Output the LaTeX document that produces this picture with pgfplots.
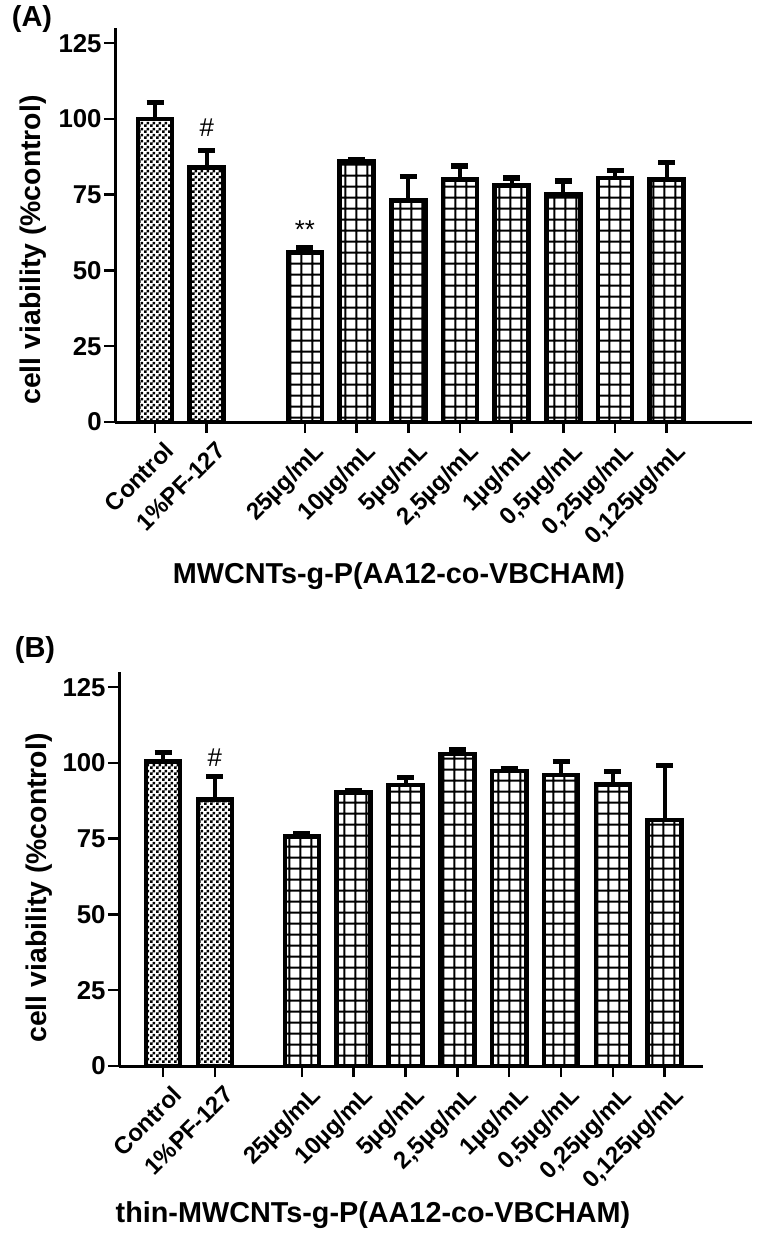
\documentclass[border=0pt]{standalone}
\usepackage{fontspec}
\setmainfont{Liberation Sans}
\usepackage{pgfplots}
\pgfplotsset{compat=1.18}
\usetikzlibrary{patterns}

\pgfdeclarepatternformonly{mygrid}{\pgfpointorigin}{\pgfqpoint{5.7pt}{5.7pt}}{\pgfqpoint{5.7pt}{5.7pt}}{%
  \pgfsetlinewidth{1.1pt}%
  \pgfpathmoveto{\pgfqpoint{-0.1pt}{2.85pt}}\pgfpathlineto{\pgfqpoint{5.8pt}{2.85pt}}%
  \pgfpathmoveto{\pgfqpoint{2.85pt}{-0.1pt}}\pgfpathlineto{\pgfqpoint{2.85pt}{5.8pt}}%
  \pgfusepath{stroke}}
\pgfdeclarepatternformonly{mychecker}{\pgfpointorigin}{\pgfqpoint{3pt}{3pt}}{\pgfqpoint{3pt}{3pt}}{%
  \pgfpathrectangle{\pgfpointorigin}{\pgfqpoint{1.5pt}{1.5pt}}%
  \pgfpathrectangle{\pgfqpoint{1.5pt}{1.5pt}}{\pgfqpoint{1.5pt}{1.5pt}}%
  \pgfusepath{fill}}

\pgfplotstableread{
x y e
0 100 5.5
1 84 5.5
}\ctrlA
\pgfplotstableread{
x y e
2.9 56 1.5
3.9 86 0.6
4.9 73 8
5.9 80 4.5
6.9 78 2.5
7.9 75 4.5
8.9 80.5 2.5
9.9 80 5.5
}\concA
\pgfplotstableread{
x y e
0 100.5 3
1 88 7.5
}\ctrlB
\pgfplotstableread{
x y e
2.68 75.7 1
3.68 90.3 0.7
4.68 92.7 2.5
5.68 103 1.5
6.68 97.3 0.8
7.68 96 4.5
8.68 92.8 4.5
9.68 81.2 18
}\concB

\pgfplotsset{
  myax/.style={
    scale only axis, ybar, bar width=17pt, clip=false,
    ymin=0, ymax=130, ytick={0,25,50,75,100,125},
    axis x line*=bottom, axis y line*=left,
    axis line style={line width=1.5pt, -},
    tick align=outside, major tick length=5.5pt,
    every tick/.style={black, line width=1.25pt},
    /pgf/number format/assume math mode=true,
    yticklabel style={font=\bfseries\fontsize{12.9}{14}\selectfont, inner sep=1pt},
    xticklabel style={font=\bfseries\fontsize{12}{14}\selectfont, xshift=4pt, yshift=-2pt, rotate=45, anchor=north east, inner sep=1pt},
    xticklabels={Control,1\%PF-127,25µg/mL,10µg/mL,5µg/mL,{2,5µg/mL},1µg/mL,{0,5µg/mL},{0,25µg/mL},{0,125µg/mL}},
  },
  mybar/.style={draw=black, line width=2.3pt, bar shift=0pt,
    error bars/y dir=plus, error bars/y explicit,
    error bars/error bar style={line width=2pt, black},
    error bars/error mark options={rotate=90, line width=2.6pt, mark size=4.25pt, black}},
}

\begin{document}
\begin{tikzpicture}
\useasboundingbox (0,0) rectangle (380pt,-621.5pt);

\begin{axis}[myax, at={(57.5pt,-211pt)}, anchor=south west,
  width=318.5pt, height=197pt, xmin=-0.774, xmax=11.55,
  xtick={0,1,2.9,3.9,4.9,5.9,6.9,7.9,8.9,9.9}]
\addplot[mybar, pattern=mychecker] table[x=x, y=y, y error=e] {\ctrlA};
\addplot[mybar, pattern=mygrid] table[x=x, y=y, y error=e] {\concA};
\node[font=\fontsize{12.9}{14}\selectfont] at (axis cs:1,97) {\#};
\node[font=\fontsize{12.9}{14}\selectfont] at (axis cs:2.9,63.4) {**};
\end{axis}

\begin{axis}[myax, at={(59.5pt,-533pt)}, anchor=south west,
  width=292pt, height=197pt, xmin=-0.85, xmax=10.42,
  xtick={0,1,2.68,3.68,4.68,5.68,6.68,7.68,8.68,9.68}]
\addplot[mybar, pattern=mychecker] table[x=x, y=y, y error=e] {\ctrlB};
\addplot[mybar, pattern=mygrid] table[x=x, y=y, y error=e] {\concB};
\node[font=\fontsize{12.9}{14}\selectfont] at (axis cs:1,101.6) {\#};
\end{axis}

\node[font=\bfseries\fontsize{14.5}{16}\selectfont] at (16pt,-9.5pt) {(A)};
\node[font=\bfseries\fontsize{14.5}{16}\selectfont] at (17.5pt,-325pt) {(B)};
\node[font=\bfseries\fontsize{14.2}{16}\selectfont, rotate=90] at (16.5pt,-125pt) {cell viability (\%control)};
\node[font=\bfseries\fontsize{14.2}{16}\selectfont, rotate=90] at (19.5pt,-444pt) {cell viability (\%control)};
\node[font=\bfseries\fontsize{14.4}{16}\selectfont] at (199.5pt,-288pt) {MWCNTs-g-P(AA12-co-VBCHAM)};
\node[font=\bfseries\fontsize{14.4}{16}\selectfont] at (186.5pt,-607.5pt) {thin-MWCNTs-g-P(AA12-co-VBCHAM)};
\end{tikzpicture}
\end{document}
